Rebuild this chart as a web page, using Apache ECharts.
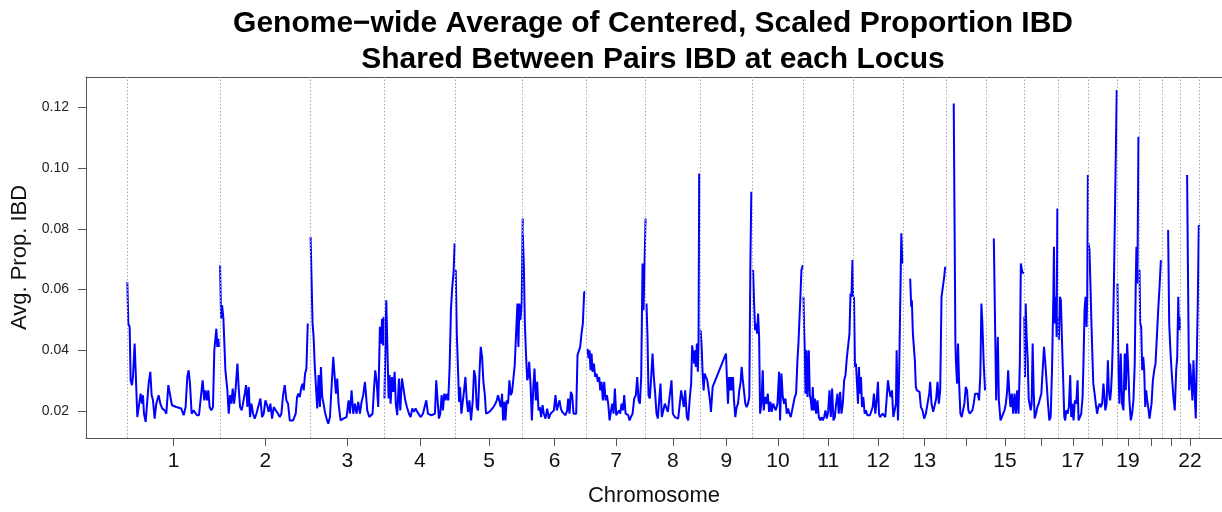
<!DOCTYPE html>
<html>
<head>
<meta charset="utf-8">
<script src="https://cdn.jsdelivr.net/npm/echarts@6/dist/echarts.min.js"></script>
<style>
html,body{margin:0;padding:0;background:#fff;}
#chart{width:1222px;height:512px;}
</style>
</head>
<body>
<div id="chart"></div>
<script>
// Chromosome names and lengths (Mb)
const chrNames = ['1','2','3','4','5','6','7','8','9','10','11','12','13','14','15','16','17','18','19','20','21','22'];
const chrLengths = [249.25,243.20,198.02,191.15,180.92,171.12,159.14,146.36,141.21,135.53,135.01,133.85,115.17,107.35,102.53,90.35,81.20,78.08,59.13,63.03,48.13,51.30];
// chromosome labels that are printed under their tick
const labeledChrs = ['1','2','3','4','5','6','7','8','9','10','11','12','13','15','17','19','22'];
const yTicks = [0.02,0.04,0.06,0.08,0.10,0.12];

// [position within chromosome (Mb), avg. prop. IBD]
const chr1 = [[0,0.0625],[2.7,0.0488],[6.3,0.0477],[9.0,0.0301],[12.5,0.0285],[15.2,0.0312],[19.7,0.0422],[22.4,0.0334],[26.9,0.0180],[31.3,0.0186],[35.8,0.0257],[39.4,0.0224],[42.1,0.0252],[44.8,0.0191],[49.3,0.0164],[53.7,0.0169],[57.3,0.0290],[61.8,0.0329],[65.4,0.0252],[69.0,0.0235],[73.4,0.0175],[77.9,0.0224],[84.2,0.0252],[88.7,0.0224],[94.0,0.0208],[100.3,0.0202],[104.8,0.0191],[110.2,0.0285],[114.6,0.0279],[120.0,0.0219],[131.7,0.0213],[145.1,0.0208],[151.4,0.0186],[156.7,0.0213],[161.2,0.0312],[164.8,0.0334],[168.4,0.0290],[172.9,0.0191],[178.2,0.0202],[182.7,0.0208],[187.2,0.0186],[192.6,0.0186],[197.9,0.0191],[202.4,0.0301],[206.9,0.0235],[210.5,0.0268],[214.1,0.0235],[217.7,0.0268],[221.2,0.0213],[225.7,0.0202],[230.2,0.0213],[233.8,0.0400],[239.2,0.0471],[241.8,0.0411],[244.5,0.0438],[246.3,0.0411]];
const chr2 = [[0,0.0680],[2.7,0.0504],[5.4,0.0548],[9.0,0.0504],[11.6,0.0499],[14.3,0.0334],[17.0,0.0329],[19.7,0.0268],[23.3,0.0191],[26.9,0.0252],[30.5,0.0224],[34.0,0.0274],[37.6,0.0224],[41.2,0.0263],[46.6,0.0356],[50.2,0.0274],[53.7,0.0213],[58.2,0.0202],[61.8,0.0197],[66.3,0.0257],[69.9,0.0285],[73.4,0.0213],[77.0,0.0279],[80.6,0.0180],[84.2,0.0224],[88.7,0.0191],[93.1,0.0175],[97.6,0.0191],[102.1,0.0197],[108.4,0.0241],[112.9,0.0180],[117.3,0.0191],[121.8,0.0235],[126.3,0.0219],[130.8,0.0197],[135.2,0.0224],[139.7,0.0175],[144.2,0.0213],[149.6,0.0202],[155.9,0.0191],[160.3,0.0180],[164.8,0.0191],[169.3,0.0252],[173.8,0.0285],[178.2,0.0235],[182.7,0.0224],[187.2,0.0169],[196.1,0.0169],[203.3,0.0191],[206.9,0.0246],[210.5,0.0257],[214.1,0.0246],[218.6,0.0279],[222.2,0.0290],[224.8,0.0268],[228.4,0.0323],[232.0,0.0340],[235.6,0.0488],[237.4,0.0488]];
const chr3 = [[0,0.0774],[2.7,0.0768],[5.4,0.0488],[8.1,0.0444],[11.6,0.0340],[14.3,0.0334],[17.9,0.0208],[21.5,0.0318],[25.1,0.0213],[27.8,0.0345],[31.3,0.0246],[34.9,0.0224],[38.5,0.0197],[43.0,0.0175],[47.5,0.0158],[52.0,0.0180],[56.4,0.0279],[60.9,0.0378],[64.5,0.0378],[68.1,0.0257],[71.7,0.0307],[75.2,0.0224],[80.6,0.0169],[87.8,0.0175],[96.7,0.0180],[102.1,0.0235],[105.7,0.0191],[110.2,0.0268],[114.6,0.0191],[119.1,0.0224],[123.6,0.0191],[128.1,0.0230],[132.6,0.0191],[137.0,0.0230],[141.5,0.0252],[146.0,0.0296],[148.7,0.0257],[152.3,0.0202],[157.7,0.0180],[162.1,0.0175],[166.6,0.0191],[170.2,0.0268],[173.8,0.0334],[177.3,0.0301],[181.8,0.0213],[186.3,0.0477],[189.4,0.0422],[192.1,0.0504],[194.8,0.0416],[196.4,0.0510]];
const chr4 = [[0.5,0.0241],[5.4,0.0565],[9.0,0.0570],[11.6,0.0241],[14.3,0.0318],[17.0,0.0224],[20.6,0.0312],[24.2,0.0263],[27.8,0.0329],[31.3,0.0219],[34.9,0.0186],[39.4,0.0307],[43.0,0.0202],[47.5,0.0307],[52.0,0.0307],[56.4,0.0235],[60.9,0.0213],[66.3,0.0191],[70.8,0.0180],[75.2,0.0208],[79.7,0.0197],[84.2,0.0208],[88.7,0.0197],[93.2,0.0191],[97.6,0.0180],[103.9,0.0191],[108.4,0.0197],[112.9,0.0235],[117.3,0.0191],[121.8,0.0197],[126.3,0.0186],[130.8,0.0191],[136.1,0.0191],[139.7,0.0301],[143.3,0.0235],[146.9,0.0175],[150.5,0.0191],[154.1,0.0252],[157.6,0.0202],[161.2,0.0257],[164.8,0.0235],[168.4,0.0257],[172.0,0.0235],[175.6,0.0345],[179.1,0.0532],[182.7,0.0609],[186.3,0.0658],[189.0,0.0752],[190.8,0.0752]];
const chr5 = [[0.9,0.0664],[3.6,0.0460],[7.2,0.0455],[9.9,0.0230],[12.5,0.0279],[16.1,0.0191],[19.7,0.0191],[23.3,0.0268],[26.9,0.0312],[30.5,0.0235],[34.0,0.0197],[37.6,0.0235],[42.1,0.0169],[46.6,0.0235],[50.2,0.0334],[53.7,0.0312],[57.3,0.0213],[60.9,0.0202],[64.5,0.0323],[68.1,0.0411],[71.7,0.0378],[75.2,0.0296],[78.8,0.0257],[82.4,0.0191],[86.9,0.0186],[91.4,0.0197],[96.7,0.0191],[102.1,0.0213],[107.5,0.0224],[111.1,0.0235],[114.6,0.0252],[118.2,0.0257],[121.8,0.0213],[125.4,0.0257],[128.1,0.0169],[131.7,0.0230],[134.4,0.0169],[137.9,0.0235],[141.5,0.0224],[145.1,0.0301],[148.7,0.0252],[152.3,0.0263],[155.9,0.0257],[159.4,0.0351],[163.0,0.0455],[166.6,0.0554],[169.3,0.0411],[172.0,0.0554],[174.7,0.0499],[178.2,0.0554],[180.9,0.0834]];
const chr6 = [[0.3,0.0780],[3.0,0.0680],[5.6,0.0493],[8.3,0.0400],[12.0,0.0301],[14.6,0.0312],[17.3,0.0362],[20.9,0.0290],[24.5,0.0169],[28.0,0.0268],[31.6,0.0340],[35.2,0.0235],[38.8,0.0296],[42.4,0.0202],[45.9,0.0213],[49.5,0.0180],[53.1,0.0219],[56.7,0.0191],[61.2,0.0175],[65.7,0.0208],[70.1,0.0175],[74.6,0.0191],[79.1,0.0186],[83.6,0.0202],[88.1,0.0252],[91.6,0.0202],[95.2,0.0197],[98.8,0.0235],[102.4,0.0208],[106.0,0.0197],[110.4,0.0191],[114.9,0.0186],[119.4,0.0202],[122.1,0.0241],[125.7,0.0191],[129.3,0.0263],[132.8,0.0252],[136.4,0.0191],[140.0,0.0191],[143.6,0.0191],[147.2,0.0384],[150.8,0.0389],[154.3,0.0411],[157.9,0.0455],[161.5,0.0488],[165.1,0.0592],[167.8,0.0592]];
const chr7 = [[3.0,0.0405],[5.7,0.0373],[8.4,0.0400],[11.1,0.0334],[13.8,0.0389],[16.5,0.0329],[20.1,0.0356],[23.6,0.0312],[27.2,0.0323],[30.8,0.0296],[34.4,0.0312],[37.1,0.0268],[40.7,0.0296],[44.2,0.0235],[47.8,0.0296],[51.4,0.0235],[55.0,0.0252],[58.6,0.0224],[62.2,0.0169],[65.7,0.0197],[69.3,0.0224],[72.9,0.0191],[76.5,0.0274],[80.1,0.0186],[83.7,0.0186],[87.2,0.0202],[90.8,0.0191],[94.4,0.0224],[98.0,0.0202],[101.6,0.0252],[105.2,0.0191],[108.7,0.0197],[112.3,0.0186],[115.9,0.0169],[119.5,0.0180],[124.0,0.0191],[128.4,0.0241],[132.9,0.0252],[136.5,0.0312],[140.1,0.0235],[143.7,0.0224],[147.2,0.0312],[150.8,0.0686],[153.5,0.0532],[156.2,0.0686],[158.9,0.0834]];
const chr8 = [[2.3,0.0554],[5.0,0.0444],[7.7,0.0252],[11.3,0.0241],[14.9,0.0312],[18.5,0.0389],[22.0,0.0312],[25.6,0.0257],[29.2,0.0191],[32.8,0.0175],[36.4,0.0235],[39.9,0.0290],[43.5,0.0180],[46.2,0.0180],[51.6,0.0224],[55.2,0.0224],[59.7,0.0197],[65.0,0.0191],[69.5,0.0301],[73.1,0.0191],[78.5,0.0180],[83.0,0.0175],[87.4,0.0175],[91.9,0.0175],[95.5,0.0268],[99.1,0.0274],[102.6,0.0213],[106.2,0.0268],[110.7,0.0180],[114.3,0.0169],[118.8,0.0246],[122.3,0.0290],[125.0,0.0416],[128.6,0.0411],[130.4,0.0356],[132.2,0.0400],[134.9,0.0345],[137.6,0.0422],[140.3,0.0329],[142.1,0.0422],[143.9,0.0982]];
const chr9 = [[1.4,0.0466],[4.1,0.0411],[6.8,0.0323],[9.5,0.0268],[12.2,0.0323],[15.8,0.0318],[19.3,0.0301],[22.9,0.0296],[26.5,0.0235],[29.2,0.0197],[33.7,0.0279],[69.5,0.0389],[72.2,0.0301],[74.9,0.0224],[77.6,0.0312],[80.3,0.0268],[82.9,0.0312],[85.6,0.0268],[88.3,0.0312],[91.0,0.0235],[94.6,0.0180],[98.2,0.0213],[101.8,0.0224],[105.3,0.0268],[108.9,0.0296],[111.6,0.0345],[114.3,0.0307],[117.9,0.0307],[121.5,0.0224],[125.0,0.0213],[128.6,0.0224],[132.2,0.0246],[134.9,0.0664],[137.6,0.0922]];
const chr10 = [[1.2,0.0664],[3.9,0.0554],[6.5,0.0466],[9.2,0.0488],[11.9,0.0455],[14.6,0.0521],[17.3,0.0444],[20.0,0.0191],[23.6,0.0224],[27.1,0.0334],[29.8,0.0202],[33.4,0.0246],[37.0,0.0224],[40.6,0.0257],[44.2,0.0197],[47.7,0.0230],[51.3,0.0197],[54.9,0.0224],[58.5,0.0213],[62.1,0.0202],[66.6,0.0224],[71.0,0.0329],[73.7,0.0169],[77.3,0.0323],[80.9,0.0246],[84.5,0.0224],[88.0,0.0241],[91.6,0.0191],[95.2,0.0208],[98.8,0.0191],[102.4,0.0180],[106.0,0.0202],[109.5,0.0224],[113.1,0.0246],[116.7,0.0257],[120.3,0.0367],[123.0,0.0422],[125.6,0.0499],[128.3,0.0576],[131.0,0.0664],[133.7,0.0675],[135.5,0.0680]];
const chr11 = [[1.0,0.0576],[2.8,0.0466],[4.6,0.0400],[6.4,0.0257],[9.0,0.0400],[11.7,0.0246],[15.3,0.0400],[18.0,0.0252],[20.7,0.0235],[23.4,0.0202],[26.0,0.0279],[28.7,0.0202],[31.4,0.0241],[35.0,0.0191],[38.6,0.0235],[42.2,0.0180],[45.8,0.0169],[49.4,0.0180],[52.9,0.0169],[56.5,0.0180],[60.1,0.0202],[63.7,0.0175],[67.3,0.0197],[70.8,0.0268],[74.4,0.0180],[78.0,0.0274],[81.6,0.0169],[85.2,0.0180],[88.8,0.0224],[92.3,0.0257],[95.9,0.0191],[99.5,0.0263],[103.1,0.0191],[106.7,0.0224],[110.3,0.0301],[113.8,0.0318],[117.4,0.0373],[121.0,0.0378],[124.6,0.0455],[127.3,0.0587],[130.0,0.0576],[132.6,0.0697],[134.4,0.0576]];
const chr12 = [[1.7,0.0576],[4.4,0.0345],[7.1,0.0356],[9.8,0.0290],[12.5,0.0224],[15.1,0.0345],[17.8,0.0257],[20.5,0.0312],[23.2,0.0213],[26.8,0.0246],[30.4,0.0191],[33.9,0.0202],[37.5,0.0186],[41.1,0.0180],[44.7,0.0186],[48.3,0.0180],[51.9,0.0213],[55.4,0.0257],[59.0,0.0191],[62.6,0.0235],[66.2,0.0296],[68.9,0.0191],[71.6,0.0180],[75.1,0.0175],[78.7,0.0191],[82.3,0.0186],[85.9,0.0180],[89.5,0.0180],[93.1,0.0301],[96.6,0.0268],[100.2,0.0246],[103.8,0.0268],[107.4,0.0180],[111.0,0.0175],[114.5,0.0224],[116.3,0.0400],[119.9,0.0169],[122.6,0.0290],[126.2,0.0290],[128.9,0.0785],[131.6,0.0686]];
const chr13 = [[18.9,0.0636],[21.6,0.0543],[23.4,0.0565],[26.1,0.0455],[28.8,0.0449],[31.4,0.0367],[34.1,0.0279],[36.8,0.0268],[40.4,0.0274],[44.0,0.0263],[47.6,0.0213],[52.0,0.0202],[56.5,0.0175],[61.0,0.0191],[65.5,0.0197],[70.0,0.0257],[72.6,0.0296],[76.2,0.0224],[80.7,0.0197],[85.2,0.0197],[88.8,0.0241],[92.3,0.0296],[95.9,0.0224],[99.5,0.0268],[103.1,0.0576],[106.7,0.0609],[110.3,0.0642],[112.9,0.0675]];
const chr14 = [[20.7,0.1213],[25.2,0.0422],[26.9,0.0356],[29.6,0.0290],[32.3,0.0422],[35.2,0.0290],[38.6,0.0191],[42.2,0.0180],[45.8,0.0180],[49.4,0.0224],[52.9,0.0279],[56.5,0.0268],[60.1,0.0202],[63.7,0.0191],[67.3,0.0186],[70.8,0.0202],[74.4,0.0224],[78.0,0.0257],[81.6,0.0252],[85.2,0.0257],[88.8,0.0235],[92.3,0.0323],[95.0,0.0554],[97.7,0.0488],[101.3,0.0356],[104.9,0.0268],[106.7,0.0268]];
const chr15 = [[21.1,0.0768],[27.4,0.0235],[31.9,0.0444],[34.6,0.0235],[39.1,0.0169],[42.6,0.0180],[46.2,0.0180],[49.8,0.0202],[53.4,0.0224],[57.0,0.0268],[59.6,0.0334],[62.3,0.0268],[65.9,0.0213],[69.5,0.0257],[73.1,0.0191],[76.7,0.0257],[80.3,0.0191],[83.8,0.0268],[87.4,0.0191],[91.0,0.0356],[93.7,0.0686],[96.4,0.0664],[99.1,0.0653],[100.9,0.0658]];
const chr16 = [[0.5,0.0510],[2.3,0.0312],[4.1,0.0554],[6.8,0.0444],[9.5,0.0373],[12.2,0.0241],[14.9,0.0235],[17.6,0.0202],[20.2,0.0224],[22.9,0.0422],[25.6,0.0268],[28.3,0.0175],[31.9,0.0191],[35.5,0.0213],[39.1,0.0224],[42.6,0.0241],[46.2,0.0257],[49.8,0.0257],[53.4,0.0411],[57.0,0.0356],[60.6,0.0290],[64.1,0.0224],[67.7,0.0169],[71.3,0.0180],[74.9,0.0334],[78.5,0.0576],[80.2,0.0741],[82.0,0.0488],[83.8,0.0576],[85.6,0.0554],[87.4,0.0444],[89.2,0.0867]];
const chr17 = [[1.3,0.0510],[3.0,0.0433],[5.7,0.0576],[8.4,0.0565],[11.1,0.0444],[13.8,0.0334],[17.6,0.0180],[20.1,0.0169],[22.8,0.0202],[26.3,0.0191],[29.9,0.0213],[33.5,0.0318],[36.2,0.0180],[38.9,0.0224],[42.5,0.0169],[46.0,0.0235],[49.6,0.0224],[53.2,0.0301],[55.9,0.0169],[59.6,0.0180],[63.1,0.0191],[66.7,0.0246],[69.3,0.0367],[72.0,0.0532],[74.7,0.0576],[77.4,0.0477],[79.2,0.0576],[81.0,0.0977]];
const chr18 = [[1.4,0.0752],[4.0,0.0730],[6.6,0.0620],[9.1,0.0499],[11.7,0.0389],[14.3,0.0290],[17.8,0.0257],[21.0,0.0224],[24.5,0.0191],[27.9,0.0213],[31.3,0.0224],[34.7,0.0213],[38.1,0.0224],[41.5,0.0290],[44.1,0.0252],[46.6,0.0202],[50.1,0.0224],[53.5,0.0367],[56.0,0.0268],[59.4,0.0235],[62.0,0.0268],[64.5,0.0334],[67.1,0.0444],[69.7,0.0620],[73.1,0.0620],[77.3,0.1257]];
const chr19 = [[1.1,0.0620],[3.8,0.0334],[6.4,0.0224],[10.0,0.0389],[13.6,0.0224],[17.2,0.0202],[20.8,0.0389],[23.5,0.0268],[27.1,0.0422],[29.7,0.0356],[33.3,0.0235],[36.9,0.0169],[40.5,0.0191],[44.1,0.0235],[47.6,0.0356],[50.3,0.0620],[52.1,0.0741],[54.8,0.0620],[57.5,0.1103]];
const chr20 = [[1.3,0.0664],[3.1,0.0488],[5.8,0.0477],[8.5,0.0334],[11.2,0.0378],[13.9,0.0334],[16.6,0.0213],[19.3,0.0268],[21.9,0.0235],[24.6,0.0213],[28.2,0.0175],[30.9,0.0169],[33.6,0.0224],[37.2,0.0301],[40.8,0.0334],[44.3,0.0356],[47.9,0.0444],[51.5,0.0532],[55.1,0.0609],[58.7,0.0697],[60.5,0.0697]];
const chr21 = [[15.1,0.0796],[18.0,0.0488],[21.7,0.0389],[25.5,0.0312],[29.3,0.0246],[33.0,0.0202],[36.8,0.0334],[39.6,0.0378],[42.4,0.0576],[44.3,0.0466],[46.2,0.0510],[47.1,0.0466]];
const chr22 = [[18.0,0.0977],[21.6,0.0488],[23.4,0.0268],[26.1,0.0356],[27.9,0.0356],[29.6,0.0290],[32.3,0.0235],[35.0,0.0367],[37.7,0.0367],[39.5,0.0224],[41.3,0.0175],[44.0,0.0373],[46.7,0.0554],[49.4,0.0812],[51.2,0.0807]];

const chromData = [chr1,chr2,chr3,chr4,chr5,chr6,chr7,chr8,chr9,chr10,chr11,chr12,chr13,chr14,chr15,chr16,chr17,chr18,chr19,chr20,chr21,chr22];

// cumulative genome offsets
const offsets = [];
let acc = 0;
chrLengths.forEach(l => { offsets.push(acc); acc += l; });
const genomeEnd = acc;
const mids = chrLengths.map((l, i) => offsets[i] + l / 2);
const boundaries = offsets.concat([genomeEnd]);
const labelMids = mids.filter((m, i) => labeledChrs.indexOf(chrNames[i]) >= 0);

const FONT = '"Liberation Sans", Arial, Helvetica, sans-serif';
const lineCol = '#555555';

const series = chromData.map((pts, i) => ({
  type: 'line',
  name: 'chr' + chrNames[i],
  data: pts.map(p => [offsets[i] + p[0], p[1]]),
  showSymbol: false,
  symbol: 'none',
  lineStyle: { color: '#0000ff', width: 2 },
  itemStyle: { color: '#0000ff' },
  z: 3,
  silent: true
}));
series[0].markLine = {
  silent: true,
  symbol: 'none',
  label: { show: false },
  lineStyle: { color: '#aaaaaa', type: [1.5, 2], width: 1 },
  emphasis: { disabled: true },
  data: boundaries.map(b => ({ xAxis: b }))
};

const chart = echarts.init(document.getElementById('chart'), null, { renderer: 'canvas' });
chart.setOption({
  animation: false,
  backgroundColor: '#ffffff',
  title: {
    text: 'Genome\u2212wide Average of Centered, Scaled Proportion IBD\nShared Between Pairs IBD at each Locus',
    left: 653,
    top: 6,
    padding: 0,
    textAlign: 'center',
    textStyle: { fontFamily: FONT, fontSize: 30, fontWeight: 'bold', color: '#000', lineHeight: 36 }
  },
  grid: {
    left: 86, right: 0, top: 77, bottom: 74,
    show: false
  },
  xAxis: [{
    type: 'value',
    min: -111,
    max: 2941.5,
    name: 'Chromosome',
    nameLocation: 'middle',
    nameGap: 47,
    nameTextStyle: { fontFamily: FONT, fontSize: 22, color: '#111' },
    axisLine: { show: true, onZero: false, lineStyle: { color: lineCol, width: 1 } },
    axisTick: { show: true, customValues: mids, length: 8, lineStyle: { color: lineCol, width: 1 } },
    axisLabel: {
      show: true, customValues: labelMids, margin: 13,
      fontFamily: FONT, fontSize: 21, color: '#111',
      formatter: v => {
        let best = 0, bd = Infinity;
        mids.forEach((m, i) => { const d = Math.abs(m - v); if (d < bd) { bd = d; best = i; } });
        return chrNames[best];
      }
    },
    splitLine: { show: false }
  }, {
    type: 'value',
    position: 'top',
    min: -111,
    max: 2941.5,
    axisLine: { show: true, onZero: false, lineStyle: { color: lineCol, width: 1 } },
    axisTick: { show: false },
    axisLabel: { show: false },
    splitLine: { show: false }
  }],
  yAxis: {
    type: 'value',
    min: 0.0111,
    max: 0.1300,
    name: 'Avg. Prop. IBD',
    nameLocation: 'middle',
    nameGap: 51,
    nameTextStyle: { fontFamily: FONT, fontSize: 22, color: '#111' },
    axisLine: { show: true, onZero: false, lineStyle: { color: lineCol, width: 1 } },
    axisTick: { show: true, customValues: yTicks, length: 8, lineStyle: { color: lineCol, width: 1 } },
    axisLabel: {
      show: true, customValues: yTicks, margin: 17,
      fontFamily: FONT, fontSize: 14, color: '#222',
      formatter: v => v.toFixed(2)
    },
    splitLine: { show: false }
  },
  series: series
});
</script>
</body>
</html>
